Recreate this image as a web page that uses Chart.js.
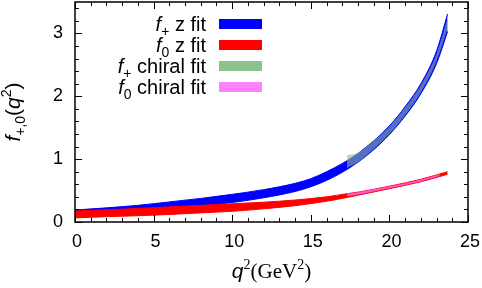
<!DOCTYPE html>
<html>
<head>
<meta charset="utf-8">
<script src="https://cdn.jsdelivr.net/npm/chart.js@4/dist/chart.umd.min.js"></script>
<style>
  html, body { margin: 0; padding: 0; background: #fff; }
  #wrap { width: 482px; height: 288px; }
</style>
</head>
<body>
<div id="wrap"><canvas id="c" width="482" height="288"></canvas></div>
<script>
// ---- data ----
const q2Plus       = [0, 2, 4, 6, 8, 10, 12, 14, 15, 16, 17, 18, 19, 20, 21, 22, 23, 23.7];
const fPlusUpper   = [0.19, 0.225, 0.265, 0.32, 0.375, 0.44, 0.515, 0.615, 0.69, 0.80, 0.93, 1.09, 1.29, 1.53, 1.835, 2.20, 2.72, 3.31];
const fPlusLower   = [0.09, 0.125, 0.165, 0.21, 0.255, 0.31, 0.385, 0.485, 0.56, 0.66, 0.79, 0.95, 1.15, 1.39, 1.685, 2.04, 2.52, 3.03];

const q2Zero       = [0, 2, 4, 6, 8, 10, 12, 14, 16, 17.3, 18, 20, 22, 23.7];
const fZeroUpper   = [0.175, 0.195, 0.215, 0.24, 0.265, 0.29, 0.315, 0.35, 0.40, 0.45, 0.475, 0.57, 0.68, 0.80];
const fZeroLower   = [0.065, 0.085, 0.10, 0.12, 0.145, 0.17, 0.21, 0.26, 0.33, 0.39, 0.425, 0.53, 0.64, 0.76];

const q2ChiralPlus = [17.3, 18, 19, 20, 21, 22, 23, 23.7];
const fPlusChiralUpper = [1.06, 1.10, 1.29, 1.52, 1.82, 2.18, 2.68, 3.24];
const fPlusChiralLower = [0.86, 0.95, 1.16, 1.40, 1.70, 2.06, 2.56, 3.08];

const q2ChiralZero = [17.3, 18, 20, 22, 23.2];
const fZeroChiralUpper = [0.45, 0.475, 0.568, 0.678, 0.76];
const fZeroChiralLower = [0.41, 0.435, 0.535, 0.645, 0.73];

const xTickLabels = [0, 5, 10, 15, 20, 25];
const yTickLabels = [0, 1, 2, 3];

const seriesNames = ['z fit', 'z fit', 'chiral fit', 'chiral fit'];
const seriesSubs  = ['+', '0', '+', '0'];
const seriesColors = ['#0000ff', '#ff0000', 'rgb(140,194,140)', 'rgb(255,128,255)'];
const bandColors   = ['#0000ff', '#ff0000', 'rgba(143,188,143,0.6)', 'rgba(255,100,235,0.85)'];

function pts(xs, ys) { return xs.map((x, i) => ({ x: x, y: ys[i] })); }

// "order": higher values are drawn first (underneath)
function band(xs, up, lo, color, bw, order) {
  return [
    { data: pts(xs, up), fill: '+1', order: order, backgroundColor: color, borderColor: color, borderWidth: bw,
      pointRadius: 0, pointHitRadius: 0, cubicInterpolationMode: 'monotone' },
    { data: pts(xs, lo), fill: false, order: order, backgroundColor: color, borderColor: color, borderWidth: bw,
      pointRadius: 0, pointHitRadius: 0, cubicInterpolationMode: 'monotone' }
  ];
}

const datasets = [
  ...band(q2Plus, fPlusUpper, fPlusLower, bandColors[0], 1, 4),
  ...band(q2Zero, fZeroUpper, fZeroLower, bandColors[1], 1, 3),
  ...band(q2ChiralPlus, fPlusChiralUpper, fPlusChiralLower, bandColors[2], 0, 2),
  ...band(q2ChiralZero, fZeroChiralUpper, fZeroChiralLower, bandColors[3], 0, 1)
];

const SANS = '"Liberation Sans", Arial, sans-serif';
const SERIF = '"Liberation Serif", "Times New Roman", serif';

function richWidth(ctx, segs) {
  let w = 0;
  for (const s of segs) { ctx.font = s.font; w += ctx.measureText(s.t).width; }
  return w;
}
function drawRich(ctx, segs, x, y, align) {
  const w = richWidth(ctx, segs);
  let cx = align === 'right' ? x - w : (align === 'center' ? x - w / 2 : x);
  for (const s of segs) {
    ctx.font = s.font;
    ctx.fillText(s.t, cx, y + (s.dy || 0));
    cx += ctx.measureText(s.t).width;
  }
}

const framePlugin = {
  id: 'frame',
  afterDraw(chart) {
    const ctx = chart.ctx;
    const a = chart.chartArea;
    const xs = chart.scales.x, ys = chart.scales.y;
    ctx.save();
    ctx.strokeStyle = '#000';
    ctx.lineWidth = 1.5;
    ctx.strokeRect(a.left, a.top, a.right - a.left, a.bottom - a.top);
    ctx.lineWidth = 1;
    ctx.beginPath();
    for (let v = 0; v <= 25; v += 1) {
      const px = Math.round(xs.getPixelForValue(v)) + 0.5;
      const len = (v % 5 === 0) ? 7 : 4;
      ctx.moveTo(px, a.bottom); ctx.lineTo(px, a.bottom - len);
      ctx.moveTo(px, a.top); ctx.lineTo(px, a.top + len);
    }
    for (let k = 0; k <= 17; k++) {
      const v = k * 0.2;
      const py = Math.round(ys.getPixelForValue(v)) + 0.5;
      const len = (k % 5 === 0) ? 7 : 4;
      ctx.moveTo(a.left, py); ctx.lineTo(a.left + len, py);
      ctx.moveTo(a.right, py); ctx.lineTo(a.right - len, py);
    }
    ctx.stroke();

    ctx.fillStyle = '#000';
    ctx.textBaseline = 'alphabetic';
    // x title
    drawRich(ctx, [
      { t: 'q', font: 'italic 21px ' + SANS },
      { t: '2', font: '14px ' + SERIF, dy: -9 },
      { t: '(GeV', font: '21px ' + SERIF },
      { t: '2', font: '14px ' + SERIF, dy: -9 },
      { t: ')', font: '21px ' + SERIF }
    ], (a.left + a.right) / 2, 278, 'center');

    // y title
    ctx.save();
    ctx.translate(20, (a.top + a.bottom) / 2);
    ctx.rotate(-Math.PI / 2);
    drawRich(ctx, [
      { t: 'f', font: 'italic 21px ' + SANS },
      { t: '+,0', font: '14px ' + SANS, dy: 5 },
      { t: '(', font: '21px ' + SANS },
      { t: 'q', font: 'italic 21px ' + SANS },
      { t: '2', font: '14px ' + SANS, dy: -9 },
      { t: ')', font: '21px ' + SANS }
    ], 0, 0, 'center');
    ctx.restore();

    // legend
    const rowsY = [24, 45, 66, 87];
    for (let i = 0; i < 4; i++) {
      const cy = rowsY[i];
      drawRich(ctx, [
        { t: 'f', font: 'italic 20px ' + SANS },
        { t: seriesSubs[i], font: '14px ' + SANS, dy: 5 },
        { t: ' ' + seriesNames[i], font: '20px ' + SANS }
      ], 206, cy + 7, 'right');
      ctx.fillStyle = seriesColors[i];
      ctx.fillRect(219, cy - 5, 43, 10);
      ctx.fillStyle = '#000';
    }
    ctx.restore();
  }
};

new Chart(document.getElementById('c'), {
  type: 'line',
  data: { datasets: datasets },
  options: {
    responsive: false,
    animation: false,
    devicePixelRatio: 1,
    layout: { autoPadding: false, padding: { left: 0, right: 14, top: 2, bottom: 0 } },
    plugins: { legend: { display: false }, tooltip: { enabled: false } },
    scales: {
      x: {
        type: 'linear', min: 0, max: 25,
        afterFit: (s) => { s.height = 66; s.paddingLeft = 0; s.paddingRight = 0; },
        afterBuildTicks: (s) => { s.ticks = xTickLabels.map(v => ({ value: v })); },
        ticks: { stepSize: 5, color: '#000', font: { family: SANS, size: 18 }, padding: 9, labelOffset: 2, maxRotation: 0 },
        grid: { display: false, drawTicks: false },
        border: { display: false }
      },
      y: {
        type: 'linear', min: 0, max: 3.5,
        afterFit: (s) => { s.width = 75; s.paddingTop = 0; s.paddingBottom = 0; },
        afterBuildTicks: (s) => { s.ticks = yTickLabels.map(v => ({ value: v })); },
        ticks: { stepSize: 1, color: '#000', font: { family: SANS, size: 18 }, padding: 12 },
        grid: { display: false, drawTicks: false },
        border: { display: false }
      }
    }
  },
  plugins: [framePlugin]
});
</script>
</body>
</html>
